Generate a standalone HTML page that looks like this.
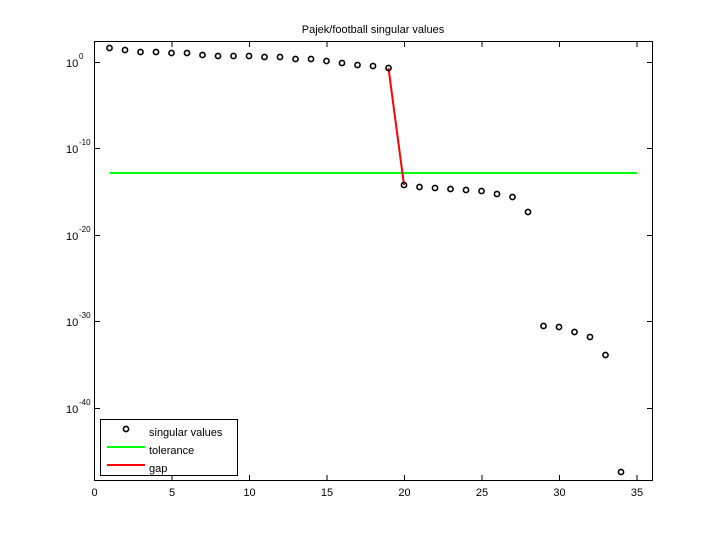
<!DOCTYPE html>
<html><head><meta charset="utf-8"><style>
html,body{margin:0;padding:0;background:#fff;}
svg text{font-family:"Liberation Sans",sans-serif;font-size:11px;fill:#000;}
</style></head><body>
<svg width="720" height="540" xmlns="http://www.w3.org/2000/svg">
<rect x="0" y="0" width="720" height="540" fill="#fff"/>
<text x="373" y="33" text-anchor="middle">Pajek/football singular values</text>
<rect x="94.5" y="41.5" width="558" height="439" fill="none" stroke="#000" stroke-width="1"/>
<g stroke="#000" stroke-width="1">
<line x1="94.5" y1="480" x2="94.5" y2="475"/><line x1="94.5" y1="42" x2="94.5" y2="47"/>
<line x1="172" y1="480" x2="172" y2="475"/><line x1="172" y1="42" x2="172" y2="47"/>
<line x1="249.5" y1="480" x2="249.5" y2="475"/><line x1="249.5" y1="42" x2="249.5" y2="47"/>
<line x1="327" y1="480" x2="327" y2="475"/><line x1="327" y1="42" x2="327" y2="47"/>
<line x1="404.5" y1="480" x2="404.5" y2="475"/><line x1="404.5" y1="42" x2="404.5" y2="47"/>
<line x1="482" y1="480" x2="482" y2="475"/><line x1="482" y1="42" x2="482" y2="47"/>
<line x1="559.5" y1="480" x2="559.5" y2="475"/><line x1="559.5" y1="42" x2="559.5" y2="47"/>
<line x1="637" y1="480" x2="637" y2="475"/><line x1="637" y1="42" x2="637" y2="47"/>
<line x1="95" y1="62.5" x2="100" y2="62.5"/><line x1="652" y1="62.5" x2="647" y2="62.5"/>
<line x1="95" y1="148.5" x2="100" y2="148.5"/><line x1="652" y1="148.5" x2="647" y2="148.5"/>
<line x1="95" y1="235.5" x2="100" y2="235.5"/><line x1="652" y1="235.5" x2="647" y2="235.5"/>
<line x1="95" y1="321.5" x2="100" y2="321.5"/><line x1="652" y1="321.5" x2="647" y2="321.5"/>
<line x1="95" y1="408.5" x2="100" y2="408.5"/><line x1="652" y1="408.5" x2="647" y2="408.5"/>
</g>
<g text-anchor="middle">
<text x="94.5" y="496">0</text><text x="172" y="496">5</text><text x="249.5" y="496">10</text>
<text x="327" y="496">15</text><text x="404.5" y="496">20</text><text x="482" y="496">25</text>
<text x="559.5" y="496">30</text><text x="637" y="496">35</text>
</g>
<g>
<text x="66" y="67">10</text><text x="79" y="59" style="font-size:8px">0</text>
<text x="66" y="153">10</text><text x="79" y="145" style="font-size:8px">-10</text>
<text x="66" y="240">10</text><text x="79" y="232" style="font-size:8px">-20</text>
<text x="66" y="326">10</text><text x="79" y="318" style="font-size:8px">-30</text>
<text x="66" y="413">10</text><text x="79" y="405" style="font-size:8px">-40</text>
</g>
<line x1="109.5" y1="173" x2="637" y2="173" stroke="#00ff00" stroke-width="2"/>
<line x1="388.5" y1="68" x2="404" y2="185" stroke="#ff0000" stroke-width="2"/>
<g fill="none" stroke="#000" stroke-width="1.6">
<circle cx="109.5" cy="48" r="2.6"/><circle cx="125" cy="50" r="2.6"/><circle cx="140.5" cy="52" r="2.6"/>
<circle cx="156" cy="52" r="2.6"/><circle cx="171.5" cy="53" r="2.6"/><circle cx="187" cy="53" r="2.6"/>
<circle cx="202.5" cy="55" r="2.6"/><circle cx="218" cy="56" r="2.6"/><circle cx="233.5" cy="56" r="2.6"/>
<circle cx="249" cy="56" r="2.6"/><circle cx="264.5" cy="57" r="2.6"/><circle cx="280" cy="57" r="2.6"/>
<circle cx="295.5" cy="59" r="2.6"/><circle cx="311" cy="59" r="2.6"/><circle cx="326.5" cy="61" r="2.6"/>
<circle cx="342" cy="63" r="2.6"/><circle cx="357.5" cy="65" r="2.6"/><circle cx="373" cy="66" r="2.6"/>
<circle cx="388.5" cy="68" r="2.6"/><circle cx="404" cy="185" r="2.6"/><circle cx="419.5" cy="187" r="2.6"/>
<circle cx="435" cy="188" r="2.6"/><circle cx="450.5" cy="189" r="2.6"/><circle cx="466" cy="190" r="2.6"/>
<circle cx="481.5" cy="191" r="2.6"/><circle cx="497" cy="194" r="2.6"/><circle cx="512.5" cy="197" r="2.6"/>
<circle cx="528" cy="212" r="2.6"/><circle cx="543.5" cy="326" r="2.6"/><circle cx="559" cy="327" r="2.6"/>
<circle cx="574.5" cy="332" r="2.6"/><circle cx="590" cy="337" r="2.6"/><circle cx="605.5" cy="355" r="2.6"/>
<circle cx="621" cy="472" r="2.6"/>
</g>
<rect x="100.5" y="419.5" width="137" height="56" fill="#fff" stroke="#000" stroke-width="1"/>
<circle cx="126" cy="429" r="2.6" fill="none" stroke="#000" stroke-width="1.6"/>
<text x="149" y="436">singular values</text>
<line x1="107" y1="447" x2="145" y2="447" stroke="#00ff00" stroke-width="2"/>
<text x="149" y="454">tolerance</text>
<line x1="107" y1="465" x2="145" y2="465" stroke="#ff0000" stroke-width="2"/>
<text x="149" y="472">gap</text>
</svg>
</body></html>
